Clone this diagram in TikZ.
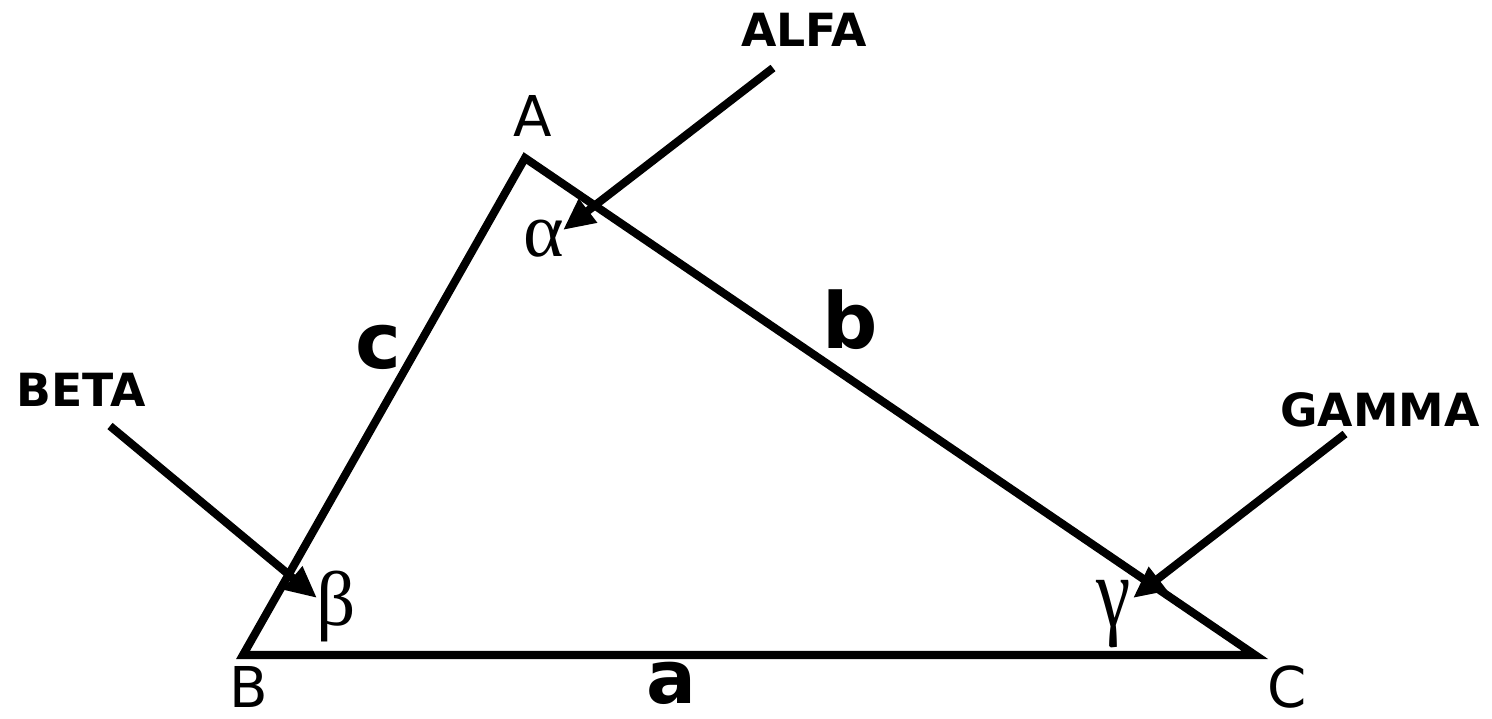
\documentclass[tikz,border=0pt]{standalone}
\usepackage{fontspec}
\setmainfont{DejaVu Sans}
\newfontfamily\greekfont{Liberation Serif}
\usetikzlibrary{arrows.meta}
\tikzset{
  side/.style={line width=2.3pt, line join=miter},
  pointer/.style={line width=2.3pt, -{Triangle[length=9pt,width=8pt]}},
  vertexlbl/.style={anchor=base, inner sep=0pt, font=\fontsize{16}{19}\selectfont},
  anglelbl/.style={anchor=base, inner sep=0pt, font=\fontsize{13}{15}\selectfont\bfseries},
  sidelbl/.style={anchor=base, inner sep=0pt, font=\fontsize{22}{26}\selectfont\bfseries},
  greeklbl/.style={anchor=base, inner sep=0pt, font=\fontsize{22}{26}\selectfont\greekfont}
}
\begin{document}
\begin{tikzpicture}[x=0.01cm, y=-0.01cm]
\useasboundingbox (0,0) rectangle (1492,719);
% vertices
\coordinate (A) at (525,158);
\coordinate (B) at (243,655);
\coordinate (C) at (1255,655);
\draw[side] (A) -- (B) -- (C) -- cycle;
% vertex labels
\node[vertexlbl] (lA) at (533,137) {A};
\node[vertexlbl] (lB) at (249,707) {B};
\node[vertexlbl] (lC) at (1287,707) {C};
% side labels
\node[sidelbl, font=\fontsize{21}{25}\selectfont\bfseries] (la) at (671,703) {a};
\node[sidelbl] (lb) at (850,349) {b};
\node[sidelbl] (lc) at (378,369) {c};
% greek labels
\node[greeklbl] (ga) at (544,257) {α};
\node[greeklbl] (gb) at (336,625) {β};
\node[greeklbl] (gc) at (1114,626) {\scalebox{1}[1.3]{γ}};
% angle names
\node[anglelbl] (nALFA) at (804,47) {ALFA};
\node[anglelbl] (nBETA) at (81,407) {BETA};
\node[anglelbl] (nGAMMA) at (1380,427) {GAMMA};
% arrows
\coordinate (sA) at (773,68);
\coordinate (tA) at (563,230);
\coordinate (sB) at (110,426);
\coordinate (tB) at (317,598);
\coordinate (sC) at (1345,434);
\coordinate (tC) at (1133,598);
\draw[pointer] (sA) -- (tA);
\draw[pointer] (sB) -- (tB);
\draw[pointer] (sC) -- (tC);
\end{tikzpicture}
\end{document}
